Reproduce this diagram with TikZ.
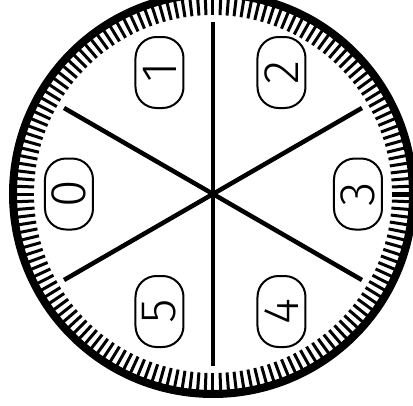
\documentclass[tikz,border=0pt]{standalone}
\usepackage{fontspec}
\newfontfamily\digitfont{Fira Sans Light}
\begin{document}
\begin{tikzpicture}[x=1pt,y=1pt,
  spoke/.style={line width=4.5pt},
  tickmark/.style={line width=3pt},
  rim/.style={line width=8pt},
  digitbox/.style={draw, line width=2pt, rounded corners=21pt,
    minimum width=71pt, minimum height=48pt, inner sep=0pt, rotate=90,
    font=\digitfont\fontsize{50}{50}\selectfont}]
\useasboundingbox (-213,-211) rectangle (200,194);
\clip (-213,-211) rectangle (200,194);
% ticks
\foreach \i in {0,...,159} \draw[tickmark] (\i*2.25:179) -- (\i*2.25:197);
\draw[line width=5pt] (0:179) -- (0:197);
% rim
\draw[rim] (0,0) circle (200);
% spokes
\foreach \a in {30,90,150,210,270,330} \coordinate (s\a) at (\a:172);
\draw[spoke] (s90) -- (s270);
\draw[spoke] (s30) -- (s210);
\draw[spoke] (s150) -- (s330);
% labels
\node[digitbox] (d0) at (-144,0) {0};
\node[digitbox] (d1) at (-53.5,121.5) {1};
\node[digitbox] (d2) at (68.5,121.5) {2};
\node[digitbox] (d3) at (145,0) {3};
\node[digitbox] (d4) at (68.5,-117.5) {4};
\node[digitbox] (d5) at (-53.5,-117.5) {5};
\end{tikzpicture}
\end{document}
